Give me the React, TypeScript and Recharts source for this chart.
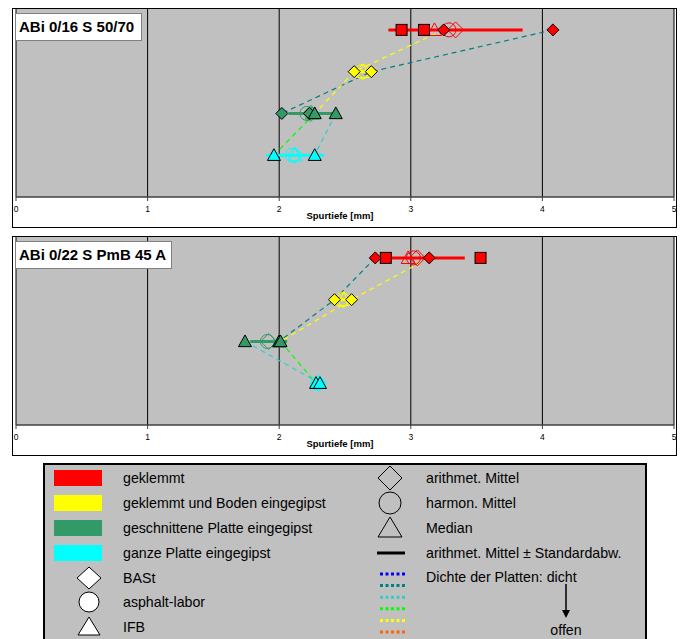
import React from 'react';
import { ScatterChart, Scatter, XAxis, YAxis, CartesianGrid } from 'recharts';

const FONT = '"Liberation Sans", Arial, sans-serif';

// rows of both panels, top to bottom
const rowNames = ['geklemmt', 'geklemmt und Boden eingegipst', 'geschnittene Platte eingegipst', 'ganze Platte eingegipst'];
const rowColors = ['#FF0000', '#FFFF00', '#339966', '#00FFFF'];
const rowLevels = [4, 3, 2, 1];
const xTicks = [0, 1, 2, 3, 4, 5];

// plate density colours, dicht -> offen
const densityColors = ['#0000FF', '#008080', '#33CCCC', '#00FF00', '#FFFF00', '#FF6600'];

// panel 1: ABi 0/16 S 50/70
const a_bast = [[3.25, 4.08], [2.57, 2.7], [2.02, 2.23], []];
const a_labor: number[][] = [[], [], [], []];
const a_ifb = [[], [], [2.27, 2.43], [1.96, 2.27]];
const a_square = [[2.93, 3.1], [], [], []];
const a_mean = [3.34, 2.64, 2.24, 2.12];
const a_harm = [3.29, 2.63, 2.21, 2.1];
const a_median = [3.18, 2.64, 2.25, 2.12];
const a_std = [0.51, 0.09, 0.17, 0.22];
const a_plates = [
  { color: '#008080', values: [4.08, 2.7, 2.02, null] },
  { color: '#FFFF00', values: [3.25, 2.57, 2.27, null] },
  { color: '#00FF00', values: [null, null, 2.27, 1.96] },
  { color: '#33CCCC', values: [null, null, 2.43, 2.27] },
];

// panel 2: ABi 0/22 S PmB 45 A
const b_bast = [[2.73, 3.14], [2.42, 2.55], [], []];
const b_labor: number[][] = [[], [], [], []];
const b_ifb = [[], [], [1.74, 2.0, 2.01], [2.28, 2.31]];
const b_square = [[2.81, 3.53], [], [], []];
const b_mean = [3.05, 2.49, 1.92, 2.3];
const b_harm = [3.02, 2.48, 1.91, 2.29];
const b_median = [2.98, 2.49, 2.0, 2.3];
const b_std = [0.36, 0.09, 0.14, 0.02];
const b_plates = [
  { color: '#008080', values: [2.73, 2.42, 2.0, null] },
  { color: '#FFFF00', values: [3.14, 2.55, 2.01, null] },
  { color: '#00FF00', values: [null, null, 2.01, 2.28] },
  { color: '#33CCCC', values: [null, null, 1.74, 2.31] },
];

type Pt = { x: number; y: number };

const diamond = (r: number, fill: string, stroke: string) => (p: any) => (
  <path
    d={`M${p.cx},${p.cy - r}L${p.cx + r},${p.cy}L${p.cx},${p.cy + r}L${p.cx - r},${p.cy}Z`}
    fill={fill}
    stroke={stroke}
    strokeWidth={1}
  />
);
const square = (r: number, fill: string, stroke: string) => (p: any) => (
  <rect x={p.cx - r} y={p.cy - r} width={2 * r} height={2 * r} fill={fill} stroke={stroke} strokeWidth={1} />
);
const circle = (r: number, fill: string, stroke: string) => (p: any) => (
  <circle cx={p.cx} cy={p.cy} r={r} fill={fill} stroke={stroke} strokeWidth={1} />
);
const triangle = (r: number, fill: string, stroke: string) => (p: any) => (
  <path
    d={`M${p.cx},${p.cy - r}L${p.cx + r},${p.cy + r * 0.8}L${p.cx - r},${p.cy + r * 0.8}Z`}
    fill={fill}
    stroke={stroke}
    strokeWidth={1}
  />
);
const noShape = () => <g />;

const AxisTitle = (props: any) => {
  const vb = props.viewBox || { x: 0, y: 0, width: 0, height: 0 };
  return (
    <text
      x={vb.x + vb.width / 2 - 5}
      y={vb.y + vb.height - 4}
      textAnchor="middle"
      fontFamily={FONT}
      fontSize={9.5}
      fontWeight="bold"
      fill="#000"
    >
      Spurtiefe [mm]
    </text>
  );
};

interface PanelProps {
  title: string;
  titleWidth: number;
  top: number;
  bast: number[][];
  labor: number[][];
  ifb: number[][];
  squares: number[][];
  mean: number[];
  harm: number[];
  median: number[];
  std: number[];
  plates: { color: string; values: (number | null)[] }[];
}

const Panel = ({ title, titleWidth, top, bast, labor, ifb, squares, mean, harm, median, std, plates }: PanelProps) => {
  const single = (vals: number[], i: number): Pt[] => [{ x: vals[i], y: rowLevels[i] }];
  const many = (vals: number[][], i: number): Pt[] => vals[i].map((x) => ({ x, y: rowLevels[i] }));

  return (
    <div style={{ position: 'absolute', left: 0, top, width: 682, height: 233 }}>
      <div
        style={{
          position: 'absolute',
          left: 12,
          top: 8,
          width: 665,
          height: 220,
          border: '1px solid #000',
          boxSizing: 'border-box',
          background: '#fff',
        }}
      />
      <div style={{ position: 'absolute', left: 0, top: 0 }}>
        <ScatterChart width={682} height={233} margin={{ top: 9, right: 8, bottom: 10, left: 16 }}>
          <CartesianGrid horizontal={false} stroke="#000" fill="#C0C0C0" />
          <XAxis
            type="number"
            dataKey="x"
            domain={[0, 5]}
            ticks={xTicks}
            interval={0}
            height={26}
            tickSize={4}
            tickMargin={5}
            axisLine={{ stroke: '#404040', strokeWidth: 1.5 }}
            tickLine={{ stroke: '#404040' }}
            tick={{ fontSize: 8.5, fill: '#000', fontFamily: FONT }}
            label={AxisTitle}
          />
          <YAxis type="number" dataKey="y" domain={[0, 4.5]} hide />

          {/* arithmet. Mittel +- Standardabw. */}
          {rowLevels.map((lvl, i) => (
            <Scatter
              key={`sd${i}`}
              data={[
                { x: mean[i] - std[i], y: lvl },
                { x: mean[i] + std[i], y: lvl },
              ]}
              shape={noShape}
              line={{ stroke: rowColors[i], strokeWidth: 3 }}
              isAnimationActive={false}
            />
          ))}

          {/* same plate across preparations */}
          {plates.map((pl, k) => (
            <Scatter
              key={`pl${k}`}
              data={pl.values
                .map((x, i) => (x === null ? null : { x, y: rowLevels[i] }))
                .filter((d): d is Pt => d !== null)}
              shape={noShape}
              line={{ stroke: pl.color, strokeWidth: 1.2, strokeDasharray: '5 4' }}
              isAnimationActive={false}
            />
          ))}

          {rowLevels.map((lvl, i) => (
            <Scatter key={`me${i}`} data={single(mean, i)} shape={diamond(8, 'none', rowColors[i])} isAnimationActive={false} />
          ))}
          {rowLevels.map((lvl, i) => (
            <Scatter key={`ha${i}`} data={single(harm, i)} shape={circle(7, 'none', rowColors[i])} isAnimationActive={false} />
          ))}
          {rowLevels.map((lvl, i) => (
            <Scatter key={`md${i}`} data={single(median, i)} shape={triangle(7, 'none', rowColors[i])} isAnimationActive={false} />
          ))}

          {rowLevels.map((lvl, i) => (
            <Scatter key={`sq${i}`} data={many(squares, i)} shape={square(5.5, rowColors[i], '#000')} isAnimationActive={false} />
          ))}
          {rowLevels.map((lvl, i) => (
            <Scatter key={`lb${i}`} data={many(labor, i)} shape={circle(5.5, rowColors[i], '#000')} isAnimationActive={false} />
          ))}
          {rowLevels.map((lvl, i) => (
            <Scatter key={`ba${i}`} data={many(bast, i)} shape={diamond(6, rowColors[i], '#000')} isAnimationActive={false} />
          ))}
          {rowLevels.map((lvl, i) => (
            <Scatter key={`if${i}`} data={many(ifb, i)} shape={triangle(6.5, rowColors[i], '#000')} isAnimationActive={false} />
          ))}
        </ScatterChart>
      </div>
      <div
        style={{
          position: 'absolute',
          left: 15,
          top: 13,
          width: titleWidth,
          height: 28,
          boxSizing: 'border-box',
          border: '1px solid #808080',
          background: '#fff',
          fontFamily: FONT,
          fontWeight: 'bold',
          fontSize: 15,
          lineHeight: '26px',
          paddingLeft: 3,
          whiteSpace: 'nowrap',
        }}
      >
        {title}
      </div>
    </div>
  );
};

const Legend = () => {
  const rowY = [15, 40, 65, 90, 115, 139, 164];
  const txt = { fontFamily: FONT, fontSize: 14.2, fill: '#000' } as const;
  return (
    <svg
      width={604}
      height={176}
      style={{ position: 'absolute', left: 43, top: 463 }}
    >
      <rect x={1} y={1} width={602} height={190} fill="#C0C0C0" stroke="#000" strokeWidth={2} />
      {rowColors.map((c, i) => (
        <g key={c}>
          <rect x={11} y={rowY[i] - 8} width={48} height={16} fill={c} />
          <text x={80} y={rowY[i]} dy="0.35em" {...txt}>
            {rowNames[i]}
          </text>
        </g>
      ))}
      <path d={`M46,${rowY[4] - 11}L58,${rowY[4]}L46,${rowY[4] + 11}L34,${rowY[4]}Z`} fill="#fff" stroke="#000" />
      <text x={80} y={rowY[4]} dy="0.35em" {...txt}>BASt</text>
      <circle cx={46} cy={rowY[5]} r={10} fill="#fff" stroke="#000" />
      <text x={80} y={rowY[5]} dy="0.35em" {...txt}>asphalt-labor</text>
      <path d={`M46,${rowY[6] - 10}L57,${rowY[6] + 8}L35,${rowY[6] + 8}Z`} fill="#fff" stroke="#000" />
      <text x={80} y={rowY[6]} dy="0.35em" {...txt}>IFB</text>

      <path d={`M347,${rowY[0] - 12}L359,${rowY[0]}L347,${rowY[0] + 12}L335,${rowY[0]}Z`} fill="none" stroke="#000" />
      <text x={383} y={rowY[0]} dy="0.35em" {...txt}>arithmet. Mittel</text>
      <circle cx={347} cy={rowY[1]} r={11} fill="none" stroke="#000" />
      <text x={383} y={rowY[1]} dy="0.35em" {...txt}>harmon. Mittel</text>
      <path d={`M347,${rowY[2] - 11}L359,${rowY[2] + 9}L335,${rowY[2] + 9}Z`} fill="none" stroke="#000" />
      <text x={383} y={rowY[2]} dy="0.35em" {...txt}>Median</text>
      <line x1={334} x2={362} y1={rowY[3]} y2={rowY[3]} stroke="#000" strokeWidth={3} />
      <text x={383} y={rowY[3]} dy="0.35em" {...txt}>arithmet. Mittel ± Standardabw.</text>
      {densityColors.map((c, k) => (
        <line key={c} x1={337} x2={364} y1={111 + k * 11.6} y2={111 + k * 11.6} stroke={c} strokeWidth={3} strokeDasharray="3 2.5" />
      ))}
      <text x={383} y={rowY[4] - 1} dy="0.35em" {...txt}>Dichte der Platten: dicht</text>
      <line x1={523} x2={523} y1={121} y2={148} stroke="#000" strokeWidth={1.5} />
      <path d="M519,147L527,147L523,155Z" fill="#000" />
      <text x={523} y={167} dy="0.35em" textAnchor="middle" {...txt}>offen</text>
    </svg>
  );
};

const App = () => (
  <div style={{ position: 'absolute', left: 0, top: 0, width: 682, height: 639, background: '#fff', overflow: 'hidden' }}>
    <Panel
      title="ABi 0/16 S 50/70"
      titleWidth={127}
      top={0}
      bast={a_bast}
      labor={a_labor}
      ifb={a_ifb}
      squares={a_square}
      mean={a_mean}
      harm={a_harm}
      median={a_median}
      std={a_std}
      plates={a_plates}
    />
    <Panel
      title="ABi 0/22 S PmB 45 A"
      titleWidth={157}
      top={228}
      bast={b_bast}
      labor={b_labor}
      ifb={b_ifb}
      squares={b_square}
      mean={b_mean}
      harm={b_harm}
      median={b_median}
      std={b_std}
      plates={b_plates}
    />
    <Legend />
  </div>
);

export default App;
